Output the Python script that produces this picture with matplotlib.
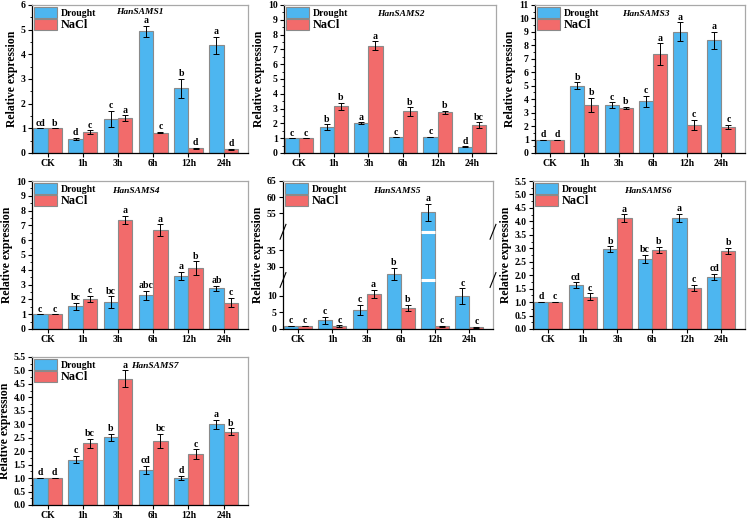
import numpy as np
import matplotlib.pyplot as plt
import matplotlib.transforms as mtransforms
from matplotlib.patches import Patch
from matplotlib.ticker import MultipleLocator, AutoMinorLocator, FixedLocator, NullLocator

plt.rcParams["font.family"] = ["Liberation Serif", "DejaVu Serif"]
plt.rcParams["font.weight"] = "bold"
plt.rcParams["axes.labelweight"] = "bold"

TIMES = ["CK", "1h", "3h", "6h", "12h", "24h"]

SAMS1_DROUGHT = [1.0, 0.57, 1.38, 4.93, 2.62, 4.36]
SAMS1_DROUGHT_ERR = [0.0, 0.04, 0.33, 0.22, 0.38, 0.34]
SAMS1_NACL = [1.0, 0.84, 1.41, 0.83, 0.2, 0.15]
SAMS1_NACL_ERR = [0.0, 0.08, 0.12, 0.02, 0.02, 0.02]
SAMS1_DROUGHT_LET = ["cd", "d", "c", "a", "b", "a"]
SAMS1_NACL_LET = ["b", "c", "a", "c", "d", "d"]

SAMS2_DROUGHT = [1.0, 1.73, 2.03, 1.06, 1.08, 0.41]
SAMS2_DROUGHT_ERR = [0.0, 0.2, 0.04, 0.0, 0.02, 0.03]
SAMS2_NACL = [1.0, 3.15, 7.26, 2.81, 2.76, 1.89]
SAMS2_NACL_ERR = [0.0, 0.22, 0.28, 0.28, 0.1, 0.18]
SAMS2_DROUGHT_LET = ["c", "b", "a", "c", "c", "d"]
SAMS2_NACL_LET = ["c", "b", "a", "b", "b", "bc"]

SAMS3_DROUGHT = [1.0, 4.99, 3.56, 3.85, 9.03, 8.37]
SAMS3_DROUGHT_ERR = [0.0, 0.27, 0.2, 0.42, 0.68, 0.65]
SAMS3_NACL = [1.0, 3.56, 3.34, 7.34, 2.08, 1.93]
SAMS3_NACL_ERR = [0.0, 0.53, 0.08, 0.8, 0.38, 0.15]
SAMS3_DROUGHT_LET = ["d", "b", "c", "c", "a", "a"]
SAMS3_NACL_LET = ["d", "b", "b", "a", "c", "c"]

SAMS4_DROUGHT = [1.0, 1.54, 1.8, 2.27, 3.57, 2.74]
SAMS4_DROUGHT_ERR = [0.0, 0.25, 0.4, 0.33, 0.28, 0.18]
SAMS4_NACL = [1.0, 2.02, 7.35, 6.68, 4.12, 1.79]
SAMS4_NACL_ERR = [0.0, 0.2, 0.28, 0.4, 0.45, 0.33]
SAMS4_DROUGHT_LET = ["c", "bc", "bc", "abc", "a", "ab"]
SAMS4_NACL_LET = ["c", "c", "a", "a", "b", "c"]

SAMS5_DROUGHT = [1.0, 2.6, 5.7, 27.8, 55.3, 10.0]
SAMS5_DROUGHT_ERR = [0.0, 1.0, 1.6, 1.9, 2.6, 2.3]
SAMS5_NACL = [1.0, 0.9, 10.7, 6.5, 0.8, 0.5]
SAMS5_NACL_ERR = [0.0, 0.2, 1.2, 0.9, 0.1, 0.1]
SAMS5_DROUGHT_LET = ["c", "c", "c", "b", "a", "c"]
SAMS5_NACL_LET = ["c", "c", "a", "b", "c", "c"]

SAMS6_DROUGHT = [1.0, 1.63, 2.96, 2.6, 4.13, 1.93]
SAMS6_DROUGHT_ERR = [0.0, 0.1, 0.11, 0.16, 0.15, 0.12]
SAMS6_NACL = [1.0, 1.2, 4.11, 2.93, 1.53, 2.9]
SAMS6_NACL_ERR = [0.0, 0.13, 0.15, 0.12, 0.1, 0.12]
SAMS6_DROUGHT_LET = ["d", "cd", "b", "bc", "a", "cd"]
SAMS6_NACL_LET = ["c", "c", "a", "b", "c", "b"]

SAMS7_DROUGHT = [1.0, 1.69, 2.51, 1.3, 1.01, 3.0]
SAMS7_DROUGHT_ERR = [0.0, 0.13, 0.14, 0.16, 0.08, 0.17]
SAMS7_NACL = [1.0, 2.29, 4.7, 2.37, 1.89, 2.73]
SAMS7_NACL_ERR = [0.0, 0.18, 0.3, 0.27, 0.18, 0.12]
SAMS7_DROUGHT_LET = ["d", "c", "b", "cd", "d", "a"]
SAMS7_NACL_LET = ["d", "bc", "a", "bc", "c", "b"]

# broken axis of HanSAMS5: data value -> position (pixels)
BREAK_VALUES = [0, 14.8, 26.0, 40.5, 49.3, 65]
BREAK_PIXELS = [0, 147, 147.6, 292, 292.6, 445]
SAMS5_TICKS = [0, 5, 10, 30, 35, 55, 60, 65]

BLUE = "#4db6f0"
RED = "#f26b6b"
EDGE = "#8a8a8a"
FRAME = "#a8a8a8"

W, H = 748, 519
# (gene, drought, d_err, nacl, n_err, d_letters, n_letters, ymax, ystep,
#  rect px, gene label position)
PANELS = [
    ("HanSAMS1", SAMS1_DROUGHT, SAMS1_DROUGHT_ERR, SAMS1_NACL, SAMS1_NACL_ERR,
     SAMS1_DROUGHT_LET, SAMS1_NACL_LET, 6, 1, (32, 5, 248, 153), (0.50, 0.955)),
    ("HanSAMS2", SAMS2_DROUGHT, SAMS2_DROUGHT_ERR, SAMS2_NACL, SAMS2_NACL_ERR,
     SAMS2_DROUGHT_LET, SAMS2_NACL_LET, 10, 1, (284, 5, 496, 153), (0.55, 0.94)),
    ("HanSAMS3", SAMS3_DROUGHT, SAMS3_DROUGHT_ERR, SAMS3_NACL, SAMS3_NACL_ERR,
     SAMS3_DROUGHT_LET, SAMS3_NACL_LET, 11, 1, (535, 5, 745, 153), (0.53, 0.94)),
    ("HanSAMS4", SAMS4_DROUGHT, SAMS4_DROUGHT_ERR, SAMS4_NACL, SAMS4_NACL_ERR,
     SAMS4_DROUGHT_LET, SAMS4_NACL_LET, 10, 1, (32, 181, 248, 329), (0.48, 0.935)),
    ("HanSAMS5", SAMS5_DROUGHT, SAMS5_DROUGHT_ERR, SAMS5_NACL, SAMS5_NACL_ERR,
     SAMS5_DROUGHT_LET, SAMS5_NACL_LET, 65, None, (283, 181, 493, 329), (0.54, 0.935)),
    ("HanSAMS6", SAMS6_DROUGHT, SAMS6_DROUGHT_ERR, SAMS6_NACL, SAMS6_NACL_ERR,
     SAMS6_DROUGHT_LET, SAMS6_NACL_LET, 5.5, 0.5, (533, 181, 745, 329), (0.54, 0.935)),
    ("HanSAMS7", SAMS7_DROUGHT, SAMS7_DROUGHT_ERR, SAMS7_NACL, SAMS7_NACL_ERR,
     SAMS7_DROUGHT_LET, SAMS7_NACL_LET, 5.5, 0.5, (32, 357, 248, 505), (0.57, 0.94)),
]


def fwd(v):
    return np.interp(np.asarray(v, dtype=float), BREAK_VALUES, BREAK_PIXELS)


def inv(p):
    return np.interp(np.asarray(p, dtype=float), BREAK_PIXELS, BREAK_VALUES)


fig = plt.figure(figsize=(W / 100, H / 100), dpi=100)
width = 0.41
x = np.arange(len(TIMES))

for (gene, dr, dr_err, na, na_err, dr_let, na_let, ymax, ystep, rect,
     gene_pos) in PANELS:
    left, top, right, bottom = rect
    ax = fig.add_axes([left / W, 1 - bottom / H, (right - left) / W, (bottom - top) / H])
    broken = ystep is None
    if broken:
        ax.set_yscale("function", functions=(fwd, inv))
    err_kw = dict(ecolor="black", elinewidth=0.7, capsize=2, capthick=0.7)
    ax.bar(x - width / 2, dr, width, yerr=dr_err, color=BLUE, edgecolor=EDGE,
           linewidth=0.8, error_kw=err_kw, zorder=2)
    ax.bar(x + width / 2, na, width, yerr=na_err, color=RED, edgecolor=EDGE,
           linewidth=0.8, error_kw=err_kw, zorder=2)
    for i in range(len(TIMES)):
        ax.annotate(dr_let[i], (x[i] - width / 2, dr[i] + dr_err[i]),
                    xytext=(0, 0.5), textcoords="offset points",
                    ha="center", va="bottom", fontsize=7, fontweight="bold")
        ax.annotate(na_let[i], (x[i] + width / 2, na[i] + na_err[i]),
                    xytext=(0, 0.5), textcoords="offset points",
                    ha="center", va="bottom", fontsize=7, fontweight="bold")

    ax.set_xlim(-0.44, 5.69)
    ax.set_ylim(0, ymax)
    ax.set_xticks(x, TIMES)
    if broken:
        ax.yaxis.set_major_locator(FixedLocator(SAMS5_TICKS))
        ax.yaxis.set_minor_locator(NullLocator())
        gap_fracs = [(BREAK_PIXELS[1] + BREAK_PIXELS[2]) / 2 / BREAK_PIXELS[-1],
                     (BREAK_PIXELS[3] + BREAK_PIXELS[4]) / 2 / BREAK_PIXELS[-1]]
        blend = mtransforms.blended_transform_factory(ax.transData, ax.transAxes)
        for i, v in enumerate(dr):
            if v > BREAK_VALUES[4]:
                for yf in gap_fracs:
                    ax.plot([x[i] - width + 0.012, x[i] - 0.012],
                            [yf, yf], transform=blend, color="white", lw=2.2,
                            solid_capstyle="butt", zorder=4)
        for yf in gap_fracs:
            for xf in (0, 1):
                ax.plot([xf - 0.014, xf + 0.014], [yf - 0.05, yf + 0.05],
                        transform=ax.transAxes, color="black", lw=0.8,
                        clip_on=False, zorder=5)
    else:
        ax.yaxis.set_major_locator(MultipleLocator(ystep))
        ax.yaxis.set_minor_locator(AutoMinorLocator(2))
        if ystep == 0.5:
            ax.yaxis.set_major_formatter(plt.FormatStrFormatter("%.1f"))

    ax.tick_params(axis="both", which="major", direction="out", length=3,
                   width=0.8, labelsize=7, pad=1.5)
    ax.tick_params(axis="y", which="minor", direction="out", length=1.5, width=0.6)
    ax.tick_params(axis="x", which="minor", bottom=False)
    for side in ("left", "bottom"):
        ax.spines[side].set_color("black")
        ax.spines[side].set_linewidth(0.9)
    for side in ("top", "right"):
        ax.spines[side].set_color(FRAME)
        ax.spines[side].set_linewidth(0.9)
    for lab in ax.get_xticklabels() + ax.get_yticklabels():
        lab.set_fontweight("bold")

    ax.set_ylabel("Relative expression", fontsize=8.5, fontweight="bold", labelpad=2)
    ax.text(gene_pos[0], gene_pos[1], gene, transform=ax.transAxes, ha="center",
            va="center", fontsize=6.8, fontweight="bold", fontstyle="italic")

    handles = [Patch(facecolor=BLUE, edgecolor=EDGE, linewidth=0.8),
               Patch(facecolor=RED, edgecolor=EDGE, linewidth=0.8)]
    leg = ax.legend(handles, ["Drought", "NaCl"], loc="upper left",
                    bbox_to_anchor=(0.0, 1.0), frameon=False, fontsize=7,
                    handlelength=2.3, handleheight=1.3, handletextpad=0.4,
                    labelspacing=0.05, borderaxespad=0.15, borderpad=0.1)
    leg.get_texts()[1].set_fontsize(8.8)

fig.savefig("out.png", dpi=100)
